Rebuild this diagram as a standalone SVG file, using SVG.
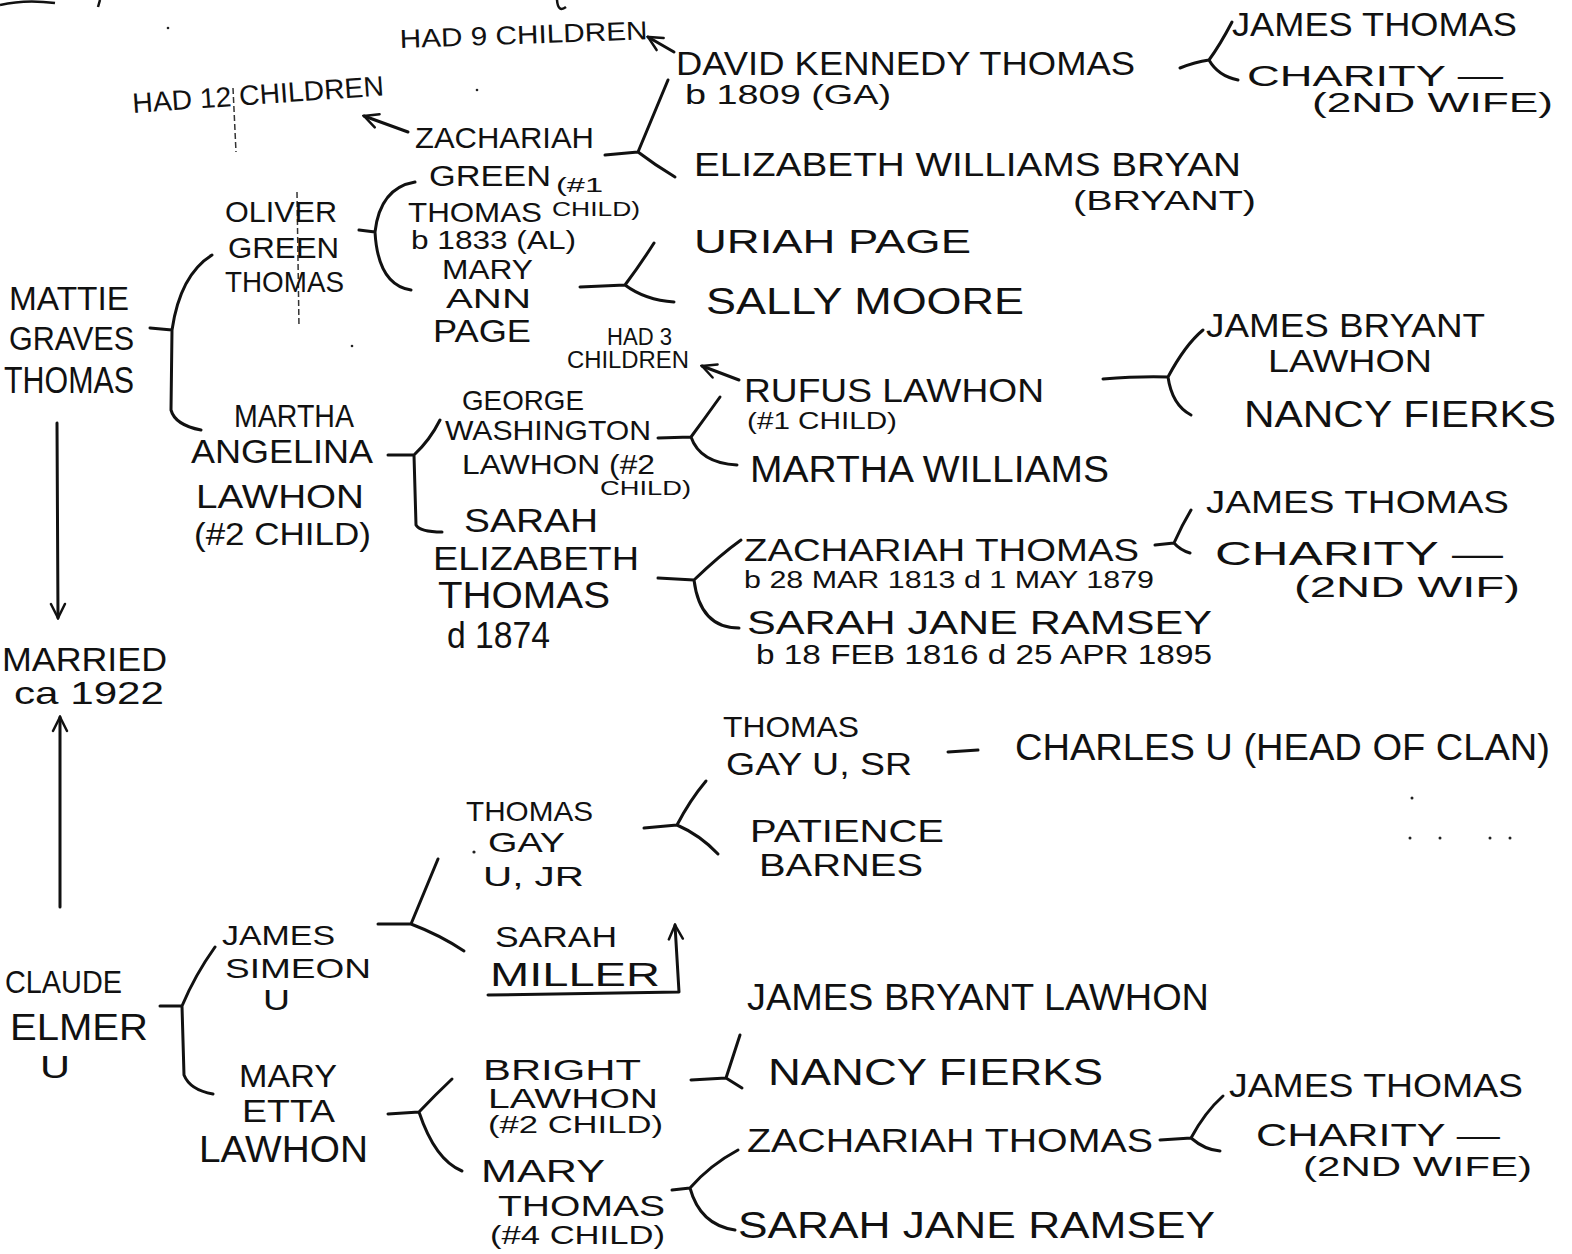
<svg xmlns="http://www.w3.org/2000/svg" width="1572" height="1254" viewBox="0 0 1572 1254">
<defs>
<style>
text { font-family: "Liberation Sans", Arial, sans-serif; fill: #111; }
.c path { stroke: #111; stroke-width: 3; fill: none; stroke-linecap: round; stroke-linejoin: round; }
.fold { stroke: #333; stroke-width: 1.5; fill: none; stroke-dasharray: 6 3; }
.speck { fill: #222; }
</style>
<marker id="ah" viewBox="0 0 18 18" refX="16" refY="9" markerWidth="18" markerHeight="18" markerUnits="userSpaceOnUse" orient="auto">
<path d="M2,2 L16,9 L2,16" stroke="#111" stroke-width="2.5" fill="none" stroke-linecap="round"/>
</marker>
</defs>
<rect width="1572" height="1254" fill="#fff"/>

<g id="scan-marks">
<path class="fold" d="M233,88 L236,152"/>
<path class="fold" d="M297,192 L299,327"/>
<path d="M0,5 Q25,-1 55,3 M100,0 L98,7 M557,0 Q558,13 566,7" stroke="#111" stroke-width="2.5" fill="none"/>
<circle class="speck" cx="168" cy="28" r="1.3"/>
<circle class="speck" cx="477" cy="90" r="1.3"/>
<circle class="speck" cx="352" cy="346" r="1.3"/>
<circle class="speck" cx="1412" cy="798" r="1.5"/>
<circle class="speck" cx="1410" cy="838" r="1.5"/>
<circle class="speck" cx="1440" cy="838" r="1.5"/>
<circle class="speck" cx="1490" cy="838" r="1.5"/>
<circle class="speck" cx="1510" cy="838" r="1.5"/>
<circle class="speck" cx="474" cy="852" r="1.6"/>
</g>

<g class="c" id="connectors">
<path d="M674,52 L648,37" marker-end="url(#ah)"/>
<path d="M1180,68 Q1195,62 1209,60 M1209,60 Q1220,45 1232,22 M1209,60 Q1218,76 1238,80"/>
<path d="M605,155 L638,152 M638,152 L668,80 M638,152 Q655,165 675,177"/>
<path d="M408,132 L364,116" marker-end="url(#ah)"/>
<path d="M359,230 L375,232 M375,232 Q380,188 415,182 M375,232 Q378,285 411,290"/>
<path d="M580,287 L625,285 M625,285 Q640,265 654,243 M625,285 Q645,300 674,302"/>
<path d="M150,328 L172,330 M172,330 Q180,275 212,255 M172,330 L171,410 Q175,425 201,430"/>
<path d="M57,423 L58,618" marker-end="url(#ah)"/>
<path d="M60,907 L60,717" marker-end="url(#ah)"/>
<path d="M388,455 L414,455 M414,455 Q430,440 440,420 M414,455 L416,525 Q420,532 442,532"/>
<path d="M739,380 L702,366" marker-end="url(#ah)"/>
<path d="M658,438 L691,437 M691,437 Q705,418 720,397 M691,437 Q700,463 737,465"/>
<path d="M1103,379 Q1140,376 1168,377 M1168,377 Q1185,345 1203,330 M1168,377 Q1172,405 1191,415"/>
<path d="M658,578 L694,580 M694,580 Q720,555 741,540 M694,580 Q700,628 739,628"/>
<path d="M1155,545 L1174,543 M1174,543 Q1182,525 1191,510 M1174,543 Q1180,550 1190,553"/>
<path d="M644,828 L677,825 M677,825 Q690,800 706,781 M677,825 Q700,835 718,854"/>
<path d="M948,752 L978,750"/>
<path d="M488,995 L679,992 L675,925" marker-end="url(#ah)"/>
<path d="M378,924 L411,924 M411,924 L438,859 M411,924 Q440,935 464,951"/>
<path d="M160,1006 L182,1006 M182,1006 Q195,975 215,947 M182,1006 L184,1075 Q190,1090 213,1094"/>
<path d="M388,1114 L419,1112 M419,1112 Q435,1095 452,1079 M419,1112 Q435,1160 462,1171"/>
<path d="M691,1080 L726,1078 M726,1078 L740,1035 M726,1078 L742,1088"/>
<path d="M672,1190 L690,1188 M690,1188 Q710,1165 738,1150 M690,1188 Q700,1225 735,1230"/>
<path d="M1160,1140 L1191,1138 M1191,1138 Q1205,1112 1223,1096 M1191,1138 Q1205,1150 1220,1151"/>
</g>

<g id="n-had9"><text x="400" y="48" font-size="26" textLength="248" lengthAdjust="spacingAndGlyphs" transform="rotate(-2 400 48)">HAD 9 CHILDREN</text></g>
<g id="n-david">
<text x="676" y="75" font-size="34" textLength="459" lengthAdjust="spacingAndGlyphs">DAVID KENNEDY THOMAS</text>
<text x="685" y="104" font-size="28" textLength="206" lengthAdjust="spacingAndGlyphs">b 1809 (GA)</text>
</g>
<g id="n-james-thomas-1"><text x="1232" y="36" font-size="34" textLength="285" lengthAdjust="spacingAndGlyphs">JAMES THOMAS</text></g>
<g id="n-charity-1">
<text x="1247" y="86" font-size="30" textLength="256" lengthAdjust="spacingAndGlyphs">CHARITY —</text>
<text x="1312" y="112" font-size="27" textLength="241" lengthAdjust="spacingAndGlyphs">(2ND WIFE)</text>
</g>
<g id="n-had12"><text x="133" y="113" font-size="28" textLength="252" lengthAdjust="spacingAndGlyphs" transform="rotate(-4 133 113)">HAD 12 CHILDREN</text></g>
<g id="n-zachariah-green">
<text x="415" y="148" font-size="30" textLength="179" lengthAdjust="spacingAndGlyphs">ZACHARIAH</text>
<text x="429" y="186" font-size="30" textLength="122" lengthAdjust="spacingAndGlyphs">GREEN</text>
<text x="556" y="192" font-size="20" textLength="47" lengthAdjust="spacingAndGlyphs">(#1</text>
<text x="552" y="216" font-size="20" textLength="88" lengthAdjust="spacingAndGlyphs">CHILD)</text>
<text x="408" y="222" font-size="28" textLength="134" lengthAdjust="spacingAndGlyphs">THOMAS</text>
<text x="411" y="249" font-size="25" textLength="165" lengthAdjust="spacingAndGlyphs">b 1833 (AL)</text>
</g>
<g id="n-elizabeth">
<text x="694" y="176" font-size="33" textLength="547" lengthAdjust="spacingAndGlyphs">ELIZABETH WILLIAMS BRYAN</text>
<text x="1073" y="210" font-size="28" textLength="183" lengthAdjust="spacingAndGlyphs">(BRYANT)</text>
</g>
<g id="n-mary-ann">
<text x="442" y="279" font-size="28" textLength="91" lengthAdjust="spacingAndGlyphs">MARY</text>
<text x="446" y="308" font-size="28" textLength="85" lengthAdjust="spacingAndGlyphs">ANN</text>
<text x="433" y="342" font-size="32" textLength="98" lengthAdjust="spacingAndGlyphs">PAGE</text>
</g>
<g id="n-uriah"><text x="694" y="253" font-size="34" textLength="277" lengthAdjust="spacingAndGlyphs">URIAH PAGE</text></g>
<g id="n-sally"><text x="706" y="314" font-size="36" textLength="318" lengthAdjust="spacingAndGlyphs">SALLY MOORE</text></g>
<g id="n-oliver">
<text x="225" y="222" font-size="30" textLength="112" lengthAdjust="spacingAndGlyphs">OLIVER</text>
<text x="228" y="258" font-size="30" textLength="111" lengthAdjust="spacingAndGlyphs">GREEN</text>
<text x="225" y="292" font-size="30" textLength="119" lengthAdjust="spacingAndGlyphs">THOMAS</text>
</g>
<g id="n-mattie">
<text x="9" y="310" font-size="34" textLength="120" lengthAdjust="spacingAndGlyphs">MATTIE</text>
<text x="9" y="350" font-size="34" textLength="125" lengthAdjust="spacingAndGlyphs">GRAVES</text>
<text x="4" y="393" font-size="36" textLength="130" lengthAdjust="spacingAndGlyphs">THOMAS</text>
</g>
<g id="n-had3">
<text x="607" y="345" font-size="23" textLength="65" lengthAdjust="spacingAndGlyphs">HAD 3</text>
<text x="567" y="368" font-size="23" textLength="122" lengthAdjust="spacingAndGlyphs">CHILDREN</text>
</g>
<g id="n-rufus">
<text x="744" y="402" font-size="34" textLength="300" lengthAdjust="spacingAndGlyphs">RUFUS LAWHON</text>
<text x="747" y="429" font-size="24" textLength="150" lengthAdjust="spacingAndGlyphs">(#1 CHILD)</text>
</g>
<g id="n-martha-williams"><text x="750" y="482" font-size="36" textLength="359" lengthAdjust="spacingAndGlyphs">MARTHA WILLIAMS</text></g>
<g id="n-james-bryant-1">
<text x="1206" y="337" font-size="34" textLength="279" lengthAdjust="spacingAndGlyphs">JAMES BRYANT</text>
<text x="1268" y="372" font-size="32" textLength="164" lengthAdjust="spacingAndGlyphs">LAWHON</text>
</g>
<g id="n-nancy-1"><text x="1244" y="427" font-size="36" textLength="312" lengthAdjust="spacingAndGlyphs">NANCY FIERKS</text></g>
<g id="n-martha-angelina">
<text x="234" y="427" font-size="32" textLength="120" lengthAdjust="spacingAndGlyphs">MARTHA</text>
<text x="191" y="463" font-size="34" textLength="182" lengthAdjust="spacingAndGlyphs">ANGELINA</text>
<text x="196" y="508" font-size="34" textLength="168" lengthAdjust="spacingAndGlyphs">LAWHON</text>
<text x="194" y="545" font-size="32" textLength="177" lengthAdjust="spacingAndGlyphs">(#2 CHILD)</text>
</g>
<g id="n-george">
<text x="462" y="410" font-size="28" textLength="122" lengthAdjust="spacingAndGlyphs">GEORGE</text>
<text x="445" y="440" font-size="28" textLength="206" lengthAdjust="spacingAndGlyphs">WASHINGTON</text>
<text x="462" y="474" font-size="28" textLength="193" lengthAdjust="spacingAndGlyphs">LAWHON (#2</text>
<text x="600" y="495" font-size="21" textLength="91" lengthAdjust="spacingAndGlyphs">CHILD)</text>
</g>
<g id="n-sarah-elizabeth">
<text x="464" y="532" font-size="34" textLength="134" lengthAdjust="spacingAndGlyphs">SARAH</text>
<text x="433" y="570" font-size="34" textLength="206" lengthAdjust="spacingAndGlyphs">ELIZABETH</text>
<text x="438" y="608" font-size="36" textLength="172" lengthAdjust="spacingAndGlyphs">THOMAS</text>
<text x="447" y="648" font-size="36" textLength="103" lengthAdjust="spacingAndGlyphs">d 1874</text>
</g>
<g id="n-zachariah-mid">
<text x="744" y="561" font-size="32" textLength="395" lengthAdjust="spacingAndGlyphs">ZACHARIAH THOMAS</text>
<text x="744" y="588" font-size="23" textLength="410" lengthAdjust="spacingAndGlyphs">b 28 MAR 1813  d 1 MAY 1879</text>
</g>
<g id="n-sarah-jane-mid">
<text x="747" y="634" font-size="34" textLength="465" lengthAdjust="spacingAndGlyphs">SARAH JANE RAMSEY</text>
<text x="756" y="664" font-size="27" textLength="456" lengthAdjust="spacingAndGlyphs">b 18 FEB 1816  d 25 APR 1895</text>
</g>
<g id="n-james-thomas-2"><text x="1206" y="513" font-size="32" textLength="303" lengthAdjust="spacingAndGlyphs">JAMES THOMAS</text></g>
<g id="n-charity-2">
<text x="1215" y="565" font-size="34" textLength="288" lengthAdjust="spacingAndGlyphs">CHARITY —</text>
<text x="1294" y="597" font-size="30" textLength="226" lengthAdjust="spacingAndGlyphs">(2ND WIF)</text>
</g>
<g id="n-married">
<text x="2" y="671" font-size="34" textLength="165" lengthAdjust="spacingAndGlyphs">MARRIED</text>
<text x="14" y="704" font-size="32" textLength="150" lengthAdjust="spacingAndGlyphs">ca 1922</text>
</g>
<g id="n-thomas-gay-sr">
<text x="723" y="737" font-size="30" textLength="136" lengthAdjust="spacingAndGlyphs">THOMAS</text>
<text x="726" y="775" font-size="32" textLength="186" lengthAdjust="spacingAndGlyphs">GAY U, SR</text>
</g>
<g id="n-charles"><text x="1015" y="760" font-size="36" textLength="535" lengthAdjust="spacingAndGlyphs">CHARLES U (HEAD OF CLAN)</text></g>
<g id="n-thomas-gay-jr">
<text x="466" y="821" font-size="28" textLength="127" lengthAdjust="spacingAndGlyphs">THOMAS</text>
<text x="488" y="852" font-size="28" textLength="77" lengthAdjust="spacingAndGlyphs">GAY</text>
<text x="483" y="886" font-size="28" textLength="101" lengthAdjust="spacingAndGlyphs">U, JR</text>
</g>
<g id="n-patience">
<text x="750" y="842" font-size="32" textLength="194" lengthAdjust="spacingAndGlyphs">PATIENCE</text>
<text x="759" y="876" font-size="32" textLength="164" lengthAdjust="spacingAndGlyphs">BARNES</text>
</g>
<g id="n-sarah-miller">
<text x="495" y="947" font-size="30" textLength="122" lengthAdjust="spacingAndGlyphs">SARAH</text>
<text x="490" y="986" font-size="34" textLength="170" lengthAdjust="spacingAndGlyphs">MILLER</text>
</g>
<g id="n-james-simeon">
<text x="222" y="945" font-size="28" textLength="113" lengthAdjust="spacingAndGlyphs">JAMES</text>
<text x="225" y="978" font-size="28" textLength="146" lengthAdjust="spacingAndGlyphs">SIMEON</text>
<text x="263" y="1010" font-size="30" textLength="27" lengthAdjust="spacingAndGlyphs">U</text>
</g>
<g id="n-claude">
<text x="5" y="993" font-size="32" textLength="117" lengthAdjust="spacingAndGlyphs">CLAUDE</text>
<text x="10" y="1040" font-size="36" textLength="138" lengthAdjust="spacingAndGlyphs">ELMER</text>
<text x="40" y="1078" font-size="32" textLength="30" lengthAdjust="spacingAndGlyphs">U</text>
</g>
<g id="n-mary-etta">
<text x="239" y="1087" font-size="32" textLength="98" lengthAdjust="spacingAndGlyphs">MARY</text>
<text x="242" y="1122" font-size="32" textLength="93" lengthAdjust="spacingAndGlyphs">ETTA</text>
<text x="199" y="1162" font-size="36" textLength="169" lengthAdjust="spacingAndGlyphs">LAWHON</text>
</g>
<g id="n-bright">
<text x="483" y="1080" font-size="30" textLength="158" lengthAdjust="spacingAndGlyphs">BRIGHT</text>
<text x="488" y="1108" font-size="27" textLength="170" lengthAdjust="spacingAndGlyphs">LAWHON</text>
<text x="488" y="1133" font-size="23" textLength="175" lengthAdjust="spacingAndGlyphs">(#2 CHILD)</text>
</g>
<g id="n-mary-thomas">
<text x="481" y="1182" font-size="32" textLength="124" lengthAdjust="spacingAndGlyphs">MARY</text>
<text x="498" y="1216" font-size="30" textLength="167" lengthAdjust="spacingAndGlyphs">THOMAS</text>
<text x="490" y="1244" font-size="25" textLength="175" lengthAdjust="spacingAndGlyphs">(#4 CHILD)</text>
</g>
<g id="n-james-bryant-2"><text x="747" y="1010" font-size="36" textLength="462" lengthAdjust="spacingAndGlyphs">JAMES BRYANT LAWHON</text></g>
<g id="n-nancy-2"><text x="768" y="1085" font-size="36" textLength="335" lengthAdjust="spacingAndGlyphs">NANCY FIERKS</text></g>
<g id="n-zachariah-bottom"><text x="747" y="1152" font-size="34" textLength="406" lengthAdjust="spacingAndGlyphs">ZACHARIAH THOMAS</text></g>
<g id="n-james-thomas-3"><text x="1229" y="1097" font-size="34" textLength="294" lengthAdjust="spacingAndGlyphs">JAMES THOMAS</text></g>
<g id="n-charity-3">
<text x="1256" y="1146" font-size="32" textLength="244" lengthAdjust="spacingAndGlyphs">CHARITY —</text>
<text x="1303" y="1176" font-size="28" textLength="229" lengthAdjust="spacingAndGlyphs">(2ND WIFE)</text>
</g>
<g id="n-sarah-jane-bottom"><text x="738" y="1238" font-size="36" textLength="477" lengthAdjust="spacingAndGlyphs">SARAH JANE RAMSEY</text></g>
</svg>
